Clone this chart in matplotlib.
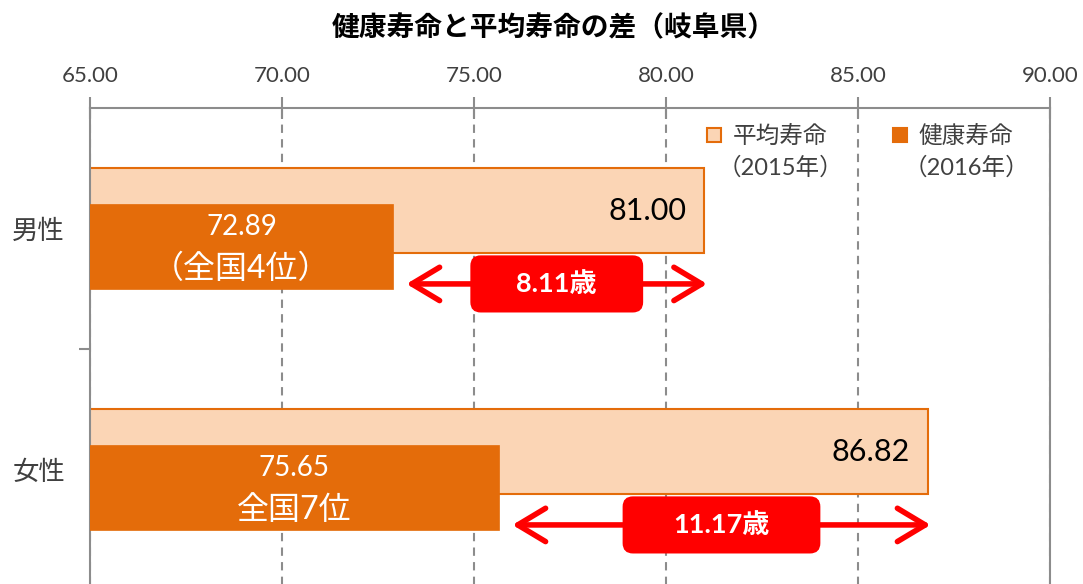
import matplotlib
matplotlib.use('agg')
import matplotlib.pyplot as plt
from matplotlib.patches import FancyBboxPatch, Rectangle

plt.rcParams['font.family'] = ['Lato', 'Noto Sans CJK JP', 'DejaVu Sans']

CATEGORIES   = ['男性', '女性']
AVG_LIFE     = [81.00, 86.82]          # 平均寿命 (2015)
HEALTHY_LIFE = [72.89, 75.65]          # 健康寿命 (2016)
RANK_LABELS  = ['（全国4位）', '全国7位']
X_TICKS      = [65, 70, 75, 80, 85, 90]

ORANGE = '#E46C0A'
PEACH  = '#FBD5B5'
GRAY   = '#8C8C8C'
TEXT   = '#404040'
RED    = '#FF0000'

W, H = 1083, 584
fig = plt.figure(figsize=(W / 100, H / 100), dpi=100)
ax = fig.add_axes([90 / W, 1 - 590 / H, 960 / W, 482 / H])

ys = list(range(len(CATEGORIES)))
off, bh = 0.074, 0.355

ax.barh([y - off for y in ys], AVG_LIFE, height=bh, color=PEACH,
        edgecolor=ORANGE, linewidth=1.5, zorder=2)
ax.barh([y + off for y in ys], HEALTHY_LIFE, height=bh, color=ORANGE,
        edgecolor=ORANGE, linewidth=0.5, zorder=3)

ax.set_xlim(65, 90)
ax.set_ylim(1.5, -0.5)

# axes styling
ax.xaxis.tick_top()
ax.set_xticks(X_TICKS, [f'{t:.2f}' for t in X_TICKS])
ax.tick_params(axis='x', direction='inout', length=16, width=1.5, color=GRAY,
               labelsize=16, labelcolor=TEXT, pad=8)
ax.set_yticks(ys, CATEGORIES)
ax.tick_params(axis='y', length=0, labelsize=19, labelcolor=TEXT, pad=18)
ax.set_yticks([0.5], minor=True)
ax.tick_params(axis='y', which='minor', length=8, width=1.5, color=GRAY)
ax.xaxis.grid(True, linestyle=(0, (4, 3)), color=GRAY, linewidth=1.5, zorder=0)
ax.set_axisbelow(True)
ax.spines['bottom'].set_visible(False)
for s in ['top', 'left', 'right']:
    ax.spines[s].set_color(GRAY)
    ax.spines[s].set_linewidth(1.5)

# value labels
for y, a, h, r in zip(ys, AVG_LIFE, HEALTHY_LIFE, RANK_LABELS):
    ax.annotate(f'{a:.2f}', xy=(a, y - off), xytext=(-13, 0),
                textcoords='offset points', ha='right', va='center',
                fontsize=22, color='black', zorder=5)
    xm = (65 + h) / 2
    ax.text(xm, y + off - 0.08, f'{h:.2f}', ha='center', va='center',
            fontsize=20, color='white', zorder=5)
    ax.text(xm, y + off + 0.093, r, ha='center', va='center',
            fontsize=23, color='white', zorder=5)

    # gap arrow with label
    x0, x1 = h + 0.35, a + 0.07
    ya = y + 0.23
    ax.annotate('', xy=(x1, ya), xytext=(x0, ya),
                arrowprops=dict(arrowstyle='<->,head_length=1.0,head_width=0.6',
                                mutation_scale=20, lw=4, color=RED,
                                shrinkA=0, shrinkB=0, capstyle='round',
                                joinstyle='round'), zorder=4)
    gap = a - h
    bw = 4.5 if gap < 10 else 5.15
    bhgt = 0.237
    xc = (x0 + x1) / 2
    ax.add_patch(FancyBboxPatch((xc - bw / 2, ya - bhgt / 2), bw, bhgt,
                                boxstyle='round,pad=0,rounding_size=0.27',
                                mutation_aspect=0.16, facecolor=RED,
                                edgecolor='none', zorder=5))
    ax.text(xc, ya, f'{gap:.2f}歳', ha='center', va='center', fontsize=19.5,
            fontweight='bold', color='white', zorder=6)

# legend drawn by hand
def px(x, y):
    return x / W, 1 - y / H

for (sx, tx), face, lab in [((707, 780), PEACH, '平均寿命\n（2015年）'),
                            ((893, 966), ORANGE, '健康寿命\n（2016年）')]:
    fig.patches.append(Rectangle(px(sx, 142), 14 / W, 14 / H, facecolor=face,
                                 edgecolor=ORANGE, linewidth=1.5,
                                 transform=fig.transFigure))
    fig.text(*px(tx, 152), lab, ha='center', va='center', fontsize=17,
             color=TEXT, linespacing=1.5, multialignment='center')

fig.text(*px(554, 28), '健康寿命と平均寿命の差（岐阜県）', ha='center',
         va='center', fontsize=20, fontweight='bold', color='black')

fig.savefig('out.png', dpi=100)
